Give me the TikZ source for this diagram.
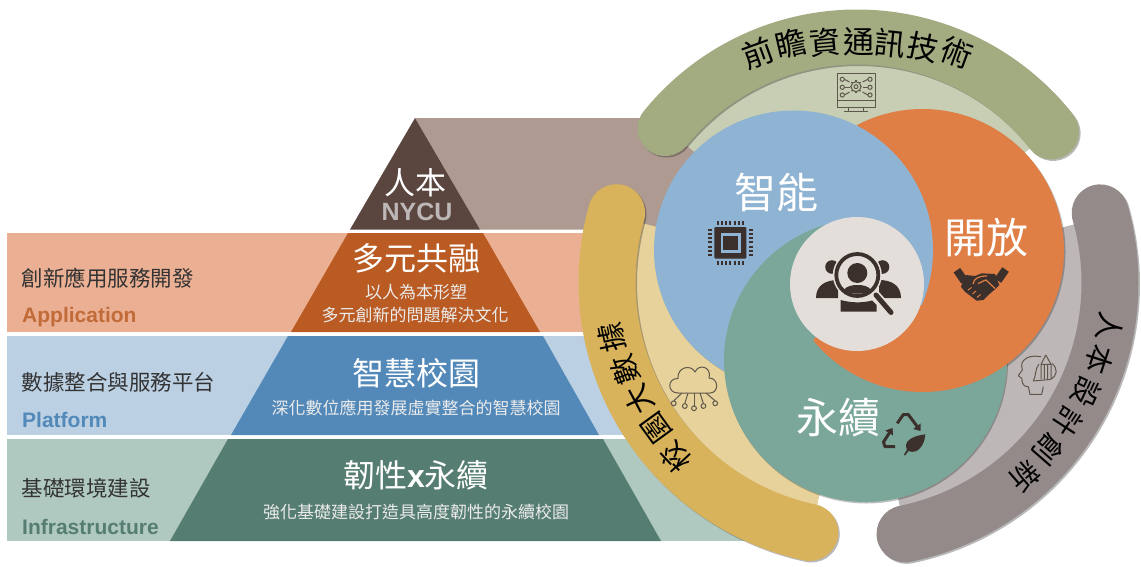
\documentclass[tikz,border=0pt]{standalone}
\usepackage{fontspec}
\setmainfont{Noto Sans CJK TC}
\newfontfamily\latinb{Liberation Sans}
\usetikzlibrary{arrows.meta,calc}
\definecolor{cblue}{HTML}{8FB3D2}
\definecolor{corange}{HTML}{DF7E45}
\definecolor{cteal}{HTML}{7BA79B}
\definecolor{ccenter}{HTML}{E4DEDB}
\definecolor{cgreen}{HTML}{A3AB80}
\definecolor{cgreenl}{HTML}{C8CEB3}
\definecolor{cgold}{HTML}{D9B35C}
\definecolor{cgoldl}{HTML}{E8D29B}
\definecolor{cgray}{HTML}{948A89}
\definecolor{cgrayl}{HTML}{BDB7B7}
\definecolor{ctaupe}{HTML}{AE9A90}
\definecolor{cbrown}{HTML}{5A463F}
\definecolor{bandA}{HTML}{EBB093}
\definecolor{trapA}{HTML}{BA5B23}
\definecolor{bandB}{HTML}{BCD0E3}
\definecolor{trapB}{HTML}{5289B9}
\definecolor{bandC}{HTML}{AFC9C1}
\definecolor{trapC}{HTML}{567D72}
\definecolor{cicon}{HTML}{3C302C}
\definecolor{cline}{HTML}{5E574B}
\tikzset{
  chartxt/.style={inner sep=0pt,text=black,font=\fontsize{31}{31}\selectfont},
  sidetxt/.style={inner sep=0pt,text=black,font=\fontsize{29}{29}\selectfont},
  bigtxt/.style={inner sep=0pt,text=white,font=\fontsize{42}{42}\selectfont},
  headtxt/.style={inner sep=0pt,text=white,font=\fontsize{32}{32}\selectfont},
  subtxt/.style={inner sep=0pt,text=white!92!black,font=\fontsize{17}{17}\selectfont},
  lefttxt/.style={inner sep=0pt,anchor=west,text=black!80,font=\fontsize{21.5}{21.5}\selectfont},
  engtxt/.style={inner sep=0pt,anchor=west,font=\fontsize{21}{21}\latinb\bfseries},
  thinicon/.style={draw=cline,line width=1pt,fill=none,line join=round},
  softshadow/.style={black,opacity=0.28}
}
\begin{document}
\begin{tikzpicture}[x=1pt,y=-1pt]
\useasboundingbox (0,0) rectangle (1141,566);
\coordinate (C) at (857,284);
\coordinate (CG) at (863,282);
\coordinate (CR) at (854,283);
% taupe and light bands
\fill[ctaupe] (415,118) -- (705,118) -- (705,229.5) -- (480,229.5) -- cycle;
\fill[bandA] (7,233) rectangle (610,332);
\fill[bandB] (7,336) rectangle (625,435);
\fill[bandC] (7,439) rectangle (760,541);
% pyramid
\fill[cbrown] (415,118) -- (480,229.5) -- (350,229.5) -- cycle;
\fill[trapA] (348,233) -- (483,233) -- (540,332) -- (291,332) -- cycle;
\fill[trapB] (288,336) -- (543,336) -- (599,435) -- (231,435) -- cycle;
\fill[trapC] (228,439) -- (603,439) -- (661,541) -- (170,541) -- cycle;
% light sectors
\draw[cgreenl,line width=74pt] (C) ++(38:185pt) arc[start angle=38,end angle=141,radius=185pt];
\draw[cgoldl,line width=80pt] (CG) ++(165:190pt) arc[start angle=165,end angle=258.5,radius=190pt];
\draw[cgrayl,line width=80pt] (CR) ++(15:190pt) arc[start angle=15,end angle=-78.5,radius=190pt];
% shadows of the outer bands
\draw[softshadow,line width=55pt,line cap=round] ($(C)+(1.5pt,-1.5pt)$) ++(38:247pt) arc[start angle=38,end angle=141,radius=247pt];
\draw[softshadow,line width=57pt,line cap=round] ($(CG)+(1.5pt,-1.5pt)$) ++(164.3:256pt) arc[start angle=164.3,end angle=258,radius=256pt];
\draw[softshadow,line width=57pt,line cap=round] ($(CR)+(1.5pt,-1.5pt)$) ++(15.9:256pt) arc[start angle=15.9,end angle=-78.5,radius=256pt];
% outer bands
\draw[cgreen,line width=55pt,line cap=round] (C) ++(38:247pt) arc[start angle=38,end angle=141,radius=247pt];
\draw[cgold,line width=57pt,line cap=round] (CG) ++(164.3:256pt) arc[start angle=164.3,end angle=258,radius=256pt];
\draw[cgray,line width=57pt,line cap=round] (CR) ++(15.9:256pt) arc[start angle=15.9,end angle=-78.5,radius=256pt];
% pinwheel: soft edges
\fill[black,opacity=0.25] (794.5,251) circle[radius=139.5pt];
\fill[black,opacity=0.25] (924,252) circle[radius=141.5pt];
\fill[black,opacity=0.25] (866.5,362) circle[radius=141.5pt];
\fill[cblue] (793.5,250) circle[radius=139.5pt];
\fill[cteal] (865.5,360.5) circle[radius=141.5pt];
\begin{scope}
  \clip (857,284) -- (790,370) -- (1100,520) -- (1100,50) -- (857,50) -- cycle;
  \fill[corange] (922.5,250.5) circle[radius=141.5pt];
\end{scope}
\begin{scope}
  \clip (922.5,250.5) circle[radius=141.5pt];
  \clip (857,50) rectangle (1100,304);
  \fill[cblue] (793.5,250) circle[radius=139.5pt];
\end{scope}
\fill[ccenter] (857,284) circle[radius=67pt];
% person icon
\fill[cicon] (832,267) circle[radius=6.8pt];
\fill[cicon] (882.5,267) circle[radius=6.8pt];
\fill[cicon] (816,298) .. controls (816,285) and (826,280) .. (838,280) -- (838,298) -- cycle;
\fill[cicon] (901,298) .. controls (901,285) and (891,280) .. (879,280) -- (879,298) -- cycle;
\fill[ccenter] (857.3,275) circle[radius=24.5pt];
\draw[cicon,line width=3.8pt] (857.3,275) circle[radius=21pt];
\fill[cicon] (857.3,273) circle[radius=10pt];
\fill[cicon] (843.5,290) .. controls (847,286) and (852,285) .. (857.3,285) .. controls (863,285) and (868,286) .. (871.5,290) .. controls (864,295) and (851,295) .. (843.5,290) -- cycle;
\fill[cicon] (840.7,300) .. controls (851,303) and (863,303) .. (872,300.5) -- (876.7,305) -- (876.7,311.7) -- (840.7,311.7) -- cycle;
\draw[ccenter,line width=8.5pt,line cap=round] (876,295) -- (892,313);
\draw[cicon,line width=5pt,line cap=round] (876,295) -- (891,312.5);
% chip
\foreach \t in {0,...,6}{
  \draw[cicon,line width=2pt] ({717.5+\t*4.3},221) -- ++(0,3.8);
  \draw[cicon,line width=2pt] ({717.5+\t*4.3},261) -- ++(0,3.8);
}
\foreach \t in {0,...,6}{
  \draw[cicon,line width=2pt] (708,{229.5+\t*4.3}) -- ++(3.8,0);
  \draw[cicon,line width=2pt] (749,{229.5+\t*4.3}) -- ++(3.8,0);
}
\fill[cicon,rounded corners=1pt] (714.3,227) rectangle (746.3,258.5);
\fill[cblue] (720.5,233) rectangle (740.5,253);
\fill[cicon] (723.3,236) rectangle (737.5,250);
% handshake
\fill[cicon,rotate around={35:(960.7,275.7)}] (956.7,269) rectangle (964.7,282.5);
\fill[cicon,rotate around={-35:(1001.7,275)}] (997.7,268.3) rectangle (1005.7,281.7);
\fill[cicon,line join=round] (965.7,275) -- (975,276) -- (981.7,273.3) -- (995,274) -- (999.3,285) -- (995,289.3) -- (988.3,295) -- (983.3,300) -- (976.7,300.7) -- (965,291.7) -- (961,286.7) -- cycle;
\draw[corange,line width=1.2pt,line join=round] (973,284) .. controls (974,278) and (979,276) .. (987,276) (978,283.5) .. controls (981,283) and (984,280) .. (986,280) -- (995,288.5);
\draw[corange,line width=1pt] (968,290) -- (971.5,287.5) (972.5,294) -- (976,291) (977,297.5) -- (980.5,294.5);
% recycling icon
\draw[cicon,line width=3pt,line join=round,-{Triangle[length=6pt,width=9pt]}] (897.3,423.3) -- (903.3,414.5) -- (908.3,414.5) -- (920.5,431);
\draw[cicon,line width=3pt,line join=round,-{Triangle[length=6pt,width=9pt]}] (895,446.7) -- (885,446.7) -- (883.5,442) -- (892.5,428);
\fill[cicon] (904,454.5) -- (907,449.5) .. controls (903,442) and (911,436) .. (925.3,434.3) .. controls (925,444) and (918,455) .. (908.5,451) -- (905,455.5) -- cycle;
% monitor
\draw[thinicon] (837,73) rectangle (875,107);
\draw[thinicon] (837,100.7) -- (875,100.7);
\draw[thinicon] (848.3,107) -- (848.3,111) (863.3,107) -- (863.3,111) (844,111) -- (868,111);
\draw[thinicon] (856,86.7) circle[radius=5pt];
\draw[thinicon] (856,86.7) circle[radius=2pt];
\foreach \a in {0,45,...,315}{ \draw[thinicon,line width=1.3pt] (856,86.7) ++(\a:5pt) -- ++(\a:1.4pt); }
\foreach \yy/\zz in {79.3/82,87.3/87.3,95/92}{
  \draw[thinicon] (842.3,\yy) circle[radius=2.1pt];
  \draw[thinicon] (870,\yy) circle[radius=2.1pt];
  \draw[thinicon] (844.4,\yy) -- (849.5,\zz);
  \draw[thinicon] (867.9,\yy) -- (862.5,\zz);
}
% cloud icon
\draw[thinicon] (678,393) .. controls (667,393) and (667,378) .. (678,378.5) .. controls (677,367) and (691,364) .. (695,372) .. controls (699,363) and (712,367) .. (709,378) .. controls (719,378) and (719,393) .. (710,393) -- cycle;
\foreach \px/\py/\qx in {673.7/403.3/682,684.8/406/688,694/408.3/694,703.4/406/700,715.2/403.3/706}{
  \draw[thinicon] (\qx,393) -- (\px,{\py-2.4});
  \draw[thinicon] (\px,\py) circle[radius=2.4pt];
}
% head icon
\draw[thinicon] (1041,356.7) .. controls (1036,356) and (1033,356) .. (1030,356.7) .. controls (1025,358) and (1021,362) .. (1021.7,366) -- (1022.3,370) -- (1018.3,375.7) -- (1021.7,378.3) -- (1022.5,383) .. controls (1023,385.5) and (1025,386.5) .. (1028.3,386.7) -- (1030,394.3) -- (1041.7,394.3) -- (1043.3,386.7);
\draw[thinicon] (1051.7,363.3) .. controls (1058,368) and (1058,376) .. (1050,379.5) -- (1033.3,381) .. controls (1036,377) and (1035,368) .. (1039,364);
\draw[thinicon] (1041,379) -- (1041,364.3) -- (1045.8,355) -- (1051,364.3) -- (1051,379) (1041,364.3) -- (1051,364.3) (1044.4,364.3) -- (1044.4,379.5) (1047.6,364.3) -- (1047.6,379.5);
% band labels
\node[chartxt,rotate=20] (f1) at (758,53) {前};
\node[chartxt,rotate=13] (f2) at (791,44) {瞻};
\node[chartxt,rotate=5] (f3) at (825,42) {資};
\node[chartxt,rotate=0] (f4) at (859,42) {通};
\node[chartxt,rotate=-6] (f5) at (890.5,43) {訊};
\node[chartxt,rotate=-12] (f6) at (923,47) {技};
\node[chartxt,rotate=-20] (f7) at (957,53) {術};
\node[sidetxt,rotate=133] (g1) at (675,457) {校};
\node[sidetxt,rotate=126] (g2) at (657,428) {園};
\node[sidetxt,rotate=118] (g3) at (639,400) {大};
\node[sidetxt,rotate=111] (g4) at (625,370) {數};
\node[sidetxt,rotate=102] (g5) at (612,338) {據};
\node[sidetxt,rotate=-100] (h1) at (1109.5,327) {人};
\node[sidetxt,rotate=-108] (h2) at (1099,360) {本};
\node[sidetxt,rotate=-115] (h3) at (1086,392) {設};
\node[sidetxt,rotate=-123] (h4) at (1068,422) {計};
\node[sidetxt,rotate=-131] (h5) at (1048,450) {創};
\node[sidetxt,rotate=-139] (h6) at (1025,476) {新};
% pinwheel labels
\node[bigtxt] (zn) at (776,193) {智能};
\node[bigtxt] (kf) at (986,238) {開放};
\node[bigtxt] (yx) at (838,418) {永續};
% pyramid labels
\node[inner sep=0pt,text=white,font=\fontsize{31}{31}\selectfont] (rb) at (415,183) {人本};
\node[inner sep=0pt,text=cgrayl,font=\fontsize{25}{25}\latinb\bfseries] (ny) at (417,212) {NYCU};
\node[headtxt] (t1) at (416,258) {多元共融};
\node[subtxt] (s1a) at (416,292) {以人為本形塑};
\node[subtxt] (s1b) at (415,315) {多元創新的問題解決文化};
\node[headtxt] (t2) at (416,373) {智慧校園};
\node[subtxt] (s2) at (416,408) {深化數位應用發展虛實整合的智慧校園};
\node[headtxt] (t3) at (416,475) {韌性{\latinb\bfseries x}永續};
\node[subtxt] (s3) at (416,512) {強化基礎建設打造具高度韌性的永續校園};
% left labels
\node[lefttxt] (l1) at (21.5,278) {創新應用服務開發};
\node[engtxt,text=trapA!90!white] (e1) at (22,317) {Application};
\node[lefttxt] (l2) at (21.5,382) {數據整合與服務平台};
\node[engtxt,text=trapB] (e2) at (22,420) {Platform};
\node[lefttxt] (l3) at (21.5,488) {基礎環境建設};
\node[engtxt,text=trapC] (e3) at (22,527) {Infrastructure};
\end{tikzpicture}
\end{document}
